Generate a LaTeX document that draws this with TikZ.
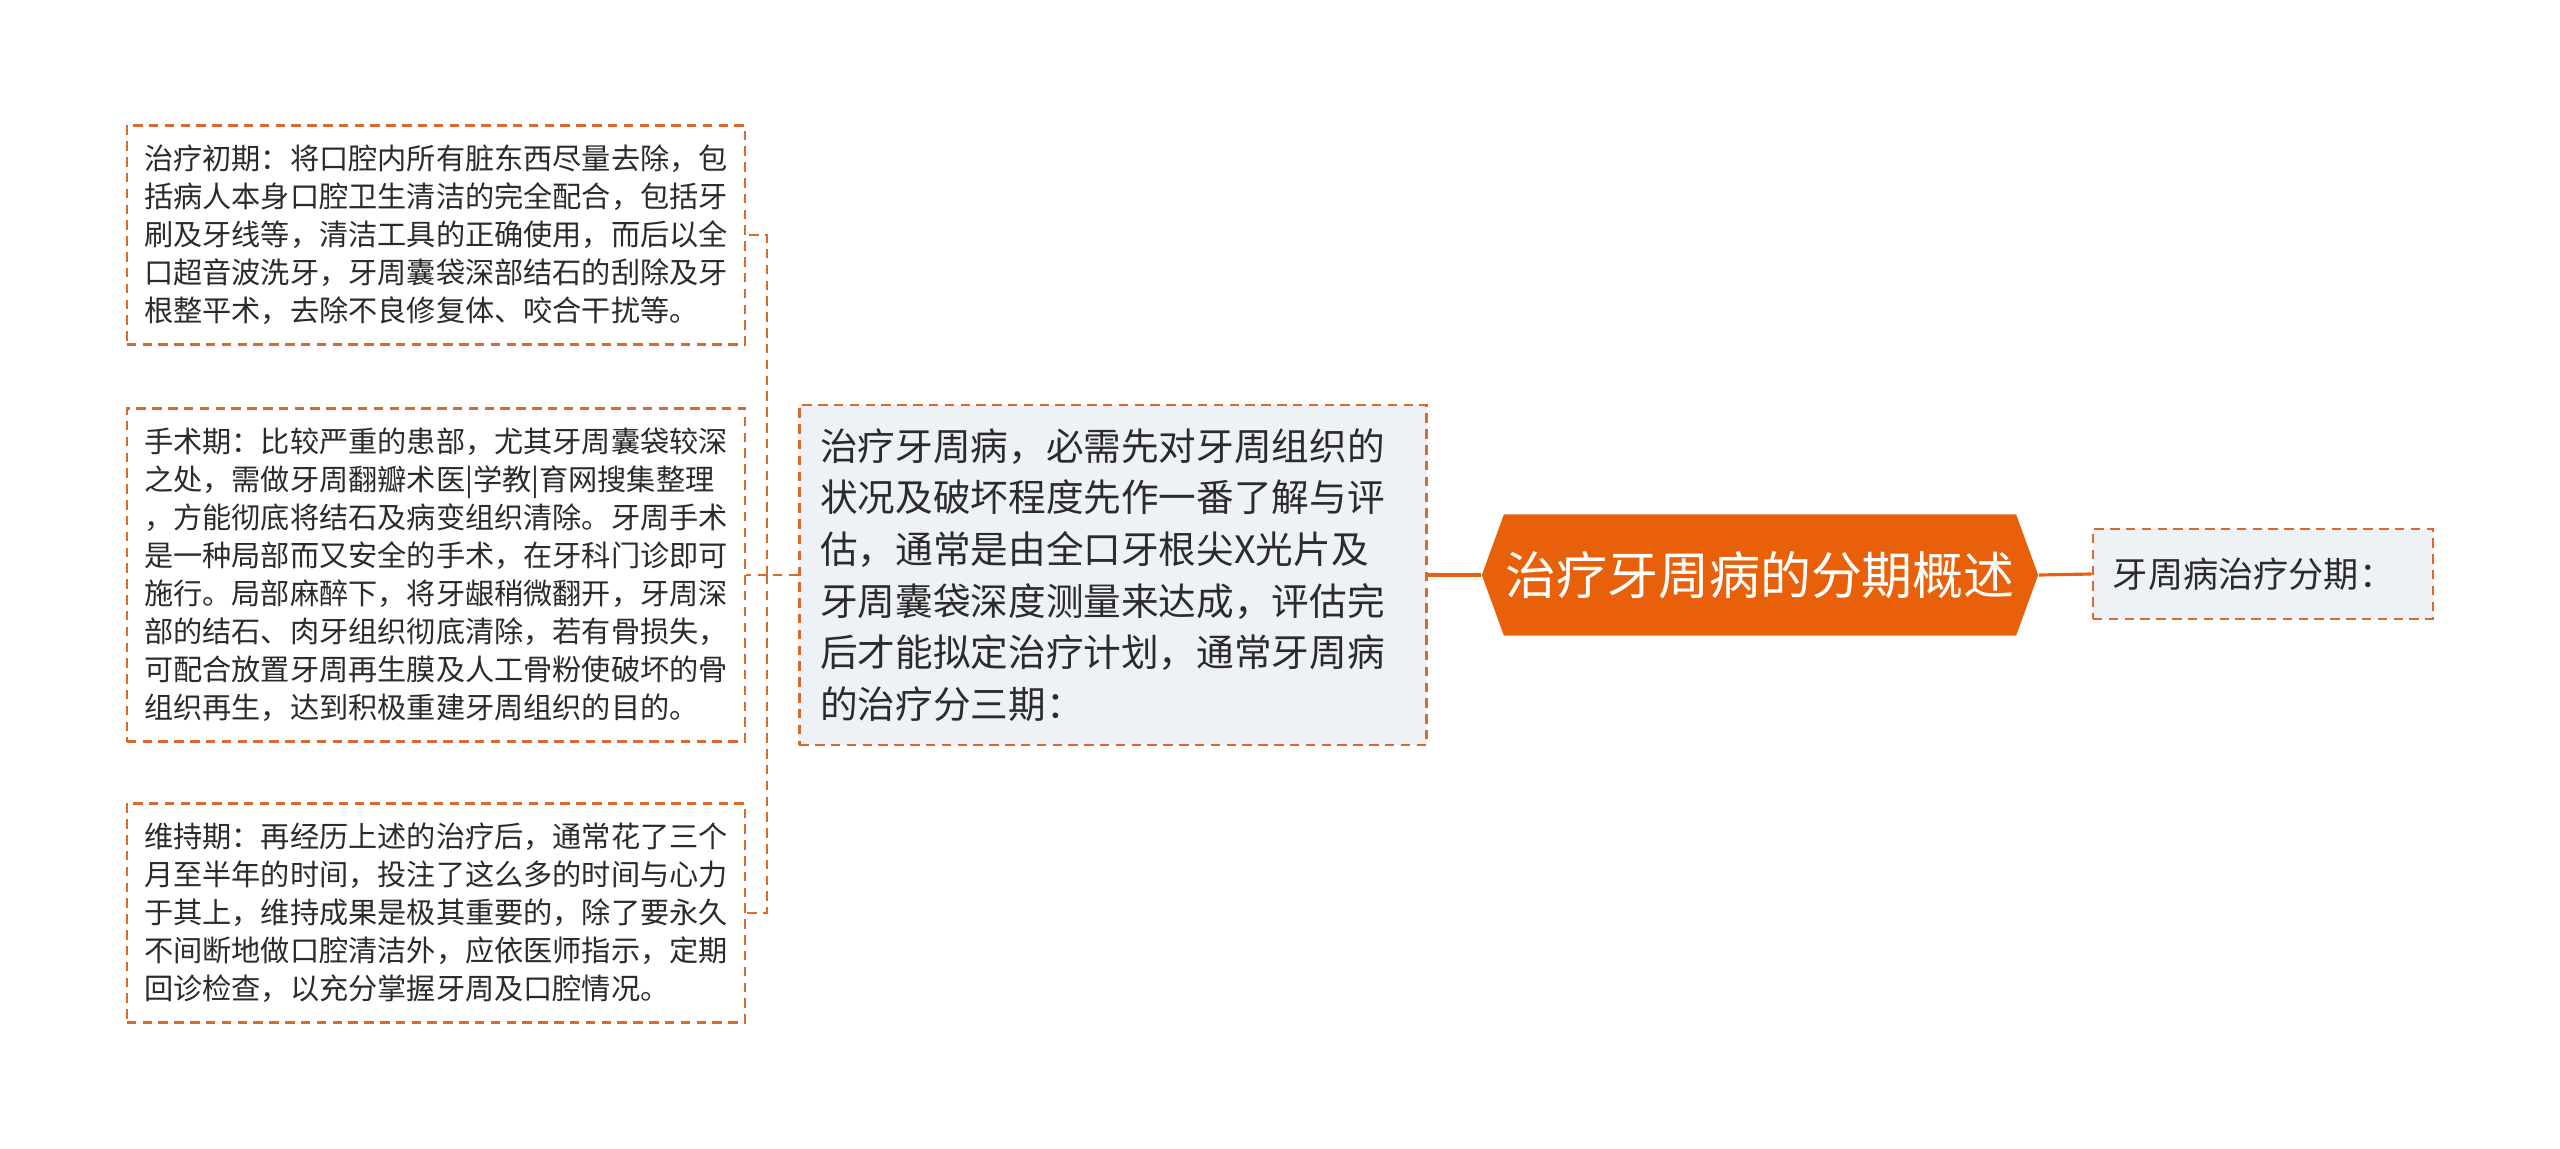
\documentclass[tikz,border=0pt]{standalone}
\usepackage{fontspec}
\newfontfamily\cjk{Noto Sans CJK SC}
\usetikzlibrary{shapes.symbols}
\definecolor{rootorange}{HTML}{E8610A}
\definecolor{dashorange}{HTML}{DA6A2C}
\definecolor{boxfill}{HTML}{EEF1F5}
\definecolor{txtgray}{HTML}{2B2B2B}

\begin{document}
\begin{tikzpicture}[x=0.01cm,y=-0.01cm,
    topic/.style={signal, signal to=west and east, signal pointer angle=140,
      fill=rootorange, text=white, inner sep=0pt,
      minimum width=5.56cm, minimum height=1.21cm,
      font=\cjk\fontsize{14.5}{17}\selectfont},
    midbox/.style={draw=dashorange, fill=boxfill, line width=0.7pt,
      dash pattern=on 2.7pt off 1.8pt, text=txtgray, align=left,
      text width=5.85cm, inner xsep=0.21cm, inner ysep=0pt,
      minimum height=3.40cm,
      font=\cjk\fontsize{10.7}{14.7}\selectfont},
    sidebox/.style={draw=dashorange, fill=boxfill, line width=0.7pt,
      dash pattern=on 2.7pt off 1.8pt, text=txtgray, align=left,
      text width=3.00cm, inner xsep=0.20cm, inner ysep=0pt,
      minimum height=0.90cm,
      font=\cjk\fontsize{10}{13}\selectfont},
    phasebox/.style={draw=dashorange, fill=white, line width=0.7pt,
      dash pattern=on 2.7pt off 1.8pt, text=txtgray, align=left,
      minimum width=6.18cm, inner sep=0pt,
      font=\cjk\fontsize{8.3}{10.8}\selectfont},
    link/.style={draw=rootorange, line width=0.9pt},
    bus/.style={draw=dashorange, line width=0.7pt, dash pattern=on 2.7pt off 1.8pt}]

    \useasboundingbox[fill=white] (0,0) rectangle (2560,1149);

    \node[topic] (root) at (1760,575) {治疗牙周病的分期概述};
    \node[sidebox] (stages) at (2263,574) {牙周病治疗分期：};
    \node[midbox] (intro) at (1113,575) {治疗牙周病，必需先对牙周组织的\\状况及破坏程度先作一番了解与评\\估，通常是由全口牙根尖X光片及\\牙周囊袋深度测量来达成，评估完\\后才能拟定治疗计划，通常牙周病\\的治疗分三期：};

    \node[phasebox, minimum height=2.19cm] (early) at (436,235) {治疗初期：将口腔内所有脏东西尽量去除，包\\括病人本身口腔卫生清洁的完全配合，包括牙\\刷及牙线等，清洁工具的正确使用，而后以全\\口超音波洗牙，牙周囊袋深部结石的刮除及牙\\根整平术，去除不良修复体、咬合干扰等。};
    \node[phasebox, minimum height=3.33cm] (surgery) at (436,575) {手术期：比较严重的患部，尤其牙周囊袋较深\\之处，需做牙周翻瓣术医|学教|育网搜集整理\\，方能彻底将结石及病变组织清除。牙周手术\\是一种局部而又安全的手术，在牙科门诊即可\\施行。局部麻醉下，将牙龈稍微翻开，牙周深\\部的结石、肉牙组织彻底清除，若有骨损失，\\可配合放置牙周再生膜及人工骨粉使破坏的骨\\组织再生，达到积极重建牙周组织的目的。};
    \node[phasebox, minimum height=2.19cm] (keep) at (436,913) {维持期：再经历上述的治疗后，通常花了三个\\月至半年的时间，投注了这么多的时间与心力\\于其上，维持成果是极其重要的，除了要永久\\不间断地做口腔清洁外，应依医师指示，定期\\回诊检查，以充分掌握牙周及口腔情况。};

    \draw[link] (root.east) -- (stages.west);
    \draw[link] (root.west) -- (intro.east);

    \coordinate (split) at (767,575);
    \draw[bus] (intro.west) -- (split);
    \draw[bus] (split) |- (early.east);
    \draw[bus] (split) -- (surgery.east);
    \draw[bus] (split) |- (keep.east);
  \end{tikzpicture}
\end{document}
